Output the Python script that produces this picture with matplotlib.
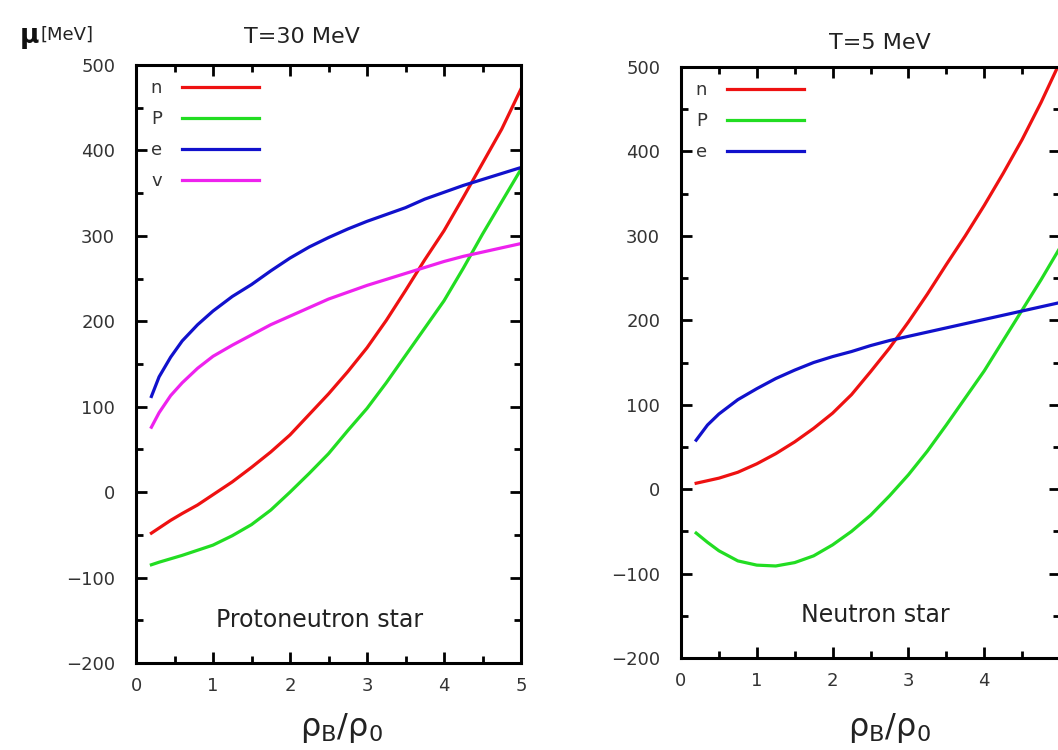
import matplotlib
matplotlib.use('Agg')
import matplotlib.pyplot as plt
from matplotlib.ticker import MultipleLocator, FuncFormatter

plt.rcParams['mathtext.fontset'] = 'dejavusans'
plt.rcParams['mathtext.default'] = 'regular'

# chemical potentials
# T = 30 MeV, protoneutron star
rho_30 = [0.2, 0.3, 0.45, 0.6, 0.8, 1.0, 1.25, 1.5, 1.75, 2.0, 2.25,
          2.5, 2.75, 3.0, 3.25, 3.5, 3.75, 4.0, 4.25, 4.5, 4.75, 5.0]
mu_n_30 = [-48, -42, -33, -25, -15, -3, 12, 29, 47, 67, 91,
           115, 141, 169, 201, 236, 272, 306, 345, 385, 425, 472]
mu_p_30 = [-85, -82, -78, -74, -68, -62, -51, -38, -21, 0, 22,
           45, 72, 98, 128, 160, 192, 224, 262, 302, 340, 378]
mu_e_30 = [112, 135, 158, 177, 196, 212, 229, 243, 259, 274, 287,
           298, 308, 317, 325, 333, 343, 351, 359, 366, 373, 380]
mu_nu_30 = [76, 93, 113, 128, 145, 159, 172, 184, 196, 206, 216,
            226, 234, 242, 249, 256, 263, 270, 276, 281, 286, 291]

# T = 5 MeV, neutron star
rho_5 = [0.2, 0.35, 0.5, 0.75, 1.0, 1.25, 1.5, 1.75, 2.0, 2.25, 2.5,
         2.75, 3.0, 3.25, 3.5, 3.75, 4.0, 4.25, 4.5, 4.75, 5.0]
mu_n_5 = [7, 10, 13, 20, 30, 42, 56, 72, 90, 112, 139,
          167, 198, 231, 266, 300, 336, 374, 414, 458, 506]
mu_p_5 = [-52, -63, -73, -85, -90, -91, -87, -79, -66, -50, -31,
          -8, 17, 45, 76, 108, 140, 176, 212, 248, 286]
mu_e_5 = [58, 76, 89, 106, 119, 131, 141, 150, 157, 163, 170,
          176, 181, 186, 191, 196, 201, 206, 211, 216, 221]

labels = ['n', 'P', 'e', 'v']
colors = ['#ee1111', '#22dd22', '#1111cc', '#ee22ee']

W, H = 1058, 750
fig = plt.figure(figsize=(W / 100, H / 100), dpi=100)

# axes boxes from pixel positions: left, top, right, bottom
ax1 = fig.add_axes([136 / W, 1 - 663 / H, (521 - 136) / W, (663 - 65) / H])
ax2 = fig.add_axes([681 / W, 1 - 658 / H, (1060 - 681) / W, (658 - 67) / H])

panels = [
    (ax1, rho_30, [mu_n_30, mu_p_30, mu_e_30, mu_nu_30]),
    (ax2, rho_5, [mu_n_5, mu_p_5, mu_e_5]),
]

for ax, rho, series in panels:
    for lab, col, mu in zip(labels, colors, series):
        ax.plot(rho, mu, color=col, lw=2.3, label=lab)
    ax.set_xlim(0, 5)
    ax.set_ylim(-200, 500)
    ax.xaxis.set_major_locator(MultipleLocator(1))
    ax.xaxis.set_minor_locator(MultipleLocator(0.5))
    ax.yaxis.set_major_locator(MultipleLocator(100))
    ax.yaxis.set_minor_locator(MultipleLocator(50))
    ax.tick_params(which='both', direction='in', top=True, right=True,
                   width=2, colors='black', labelcolor='#333333', labelsize=13)
    ax.tick_params(which='major', length=8)
    ax.tick_params(which='minor', length=5)
    ax.tick_params(axis='x', pad=10)
    ax.tick_params(axis='y', pad=15)
    for sp in ax.spines.values():
        sp.set_linewidth(2.2)
    ax.legend(loc='upper left', bbox_to_anchor=(0.005, 0.997), frameon=False,
              markerfirst=False, handlelength=4.3, handletextpad=1.1,
              labelspacing=0.72, fontsize=13, borderaxespad=0.3,
              labelcolor='#333333')

# the right panel is cut at the figure edge, its "5" is not visible
ax2.xaxis.set_major_formatter(FuncFormatter(lambda v, p: '' if v > 4.5 else f'{v:g}'))

ax1.text(0.43, 1.047, 'T=30 MeV', transform=ax1.transAxes, ha='center',
         va='center', fontsize=16, color='#222222')
ax2.text(0.525, 1.04, 'T=5 MeV', transform=ax2.transAxes, ha='center',
         va='center', fontsize=16, color='#222222')
ax1.text(0.478, 0.072, 'Protoneutron star', transform=ax1.transAxes,
         ha='center', va='center', fontsize=17, color='#222222')
ax2.text(0.512, 0.073, 'Neutron star', transform=ax2.transAxes,
         ha='center', va='center', fontsize=17, color='#222222')

fig.text(19 / W, 1 - 38 / H, r'$\mathbf{\mu}$', fontsize=19, ha='left',
         va='center', color='#111111')
fig.text(40 / W, 1 - 35 / H, '[MeV]', fontsize=13, ha='left', va='center',
         color='#222222')

fig.text(342 / W, 1 - 728 / H, r'$\rho_B/\rho_0$', fontsize=23, ha='center',
         va='center', color='#222222')
fig.text(890 / W, 1 - 728 / H, r'$\rho_B/\rho_0$', fontsize=23, ha='center',
         va='center', color='#222222')

fig.savefig('out.png', dpi=100)
